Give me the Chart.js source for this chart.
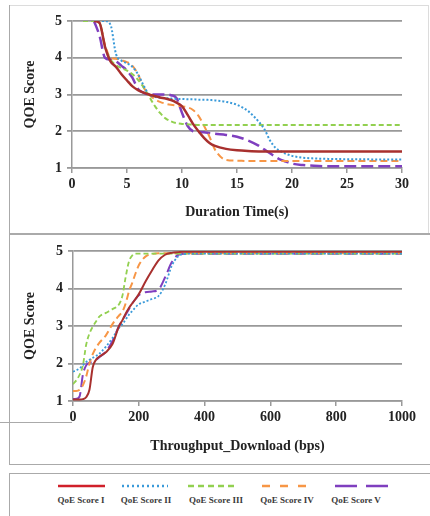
<!DOCTYPE html>
<html>
<head>
<meta charset="utf-8">
<script src="https://cdn.jsdelivr.net/npm/chart.js@4.4.1/dist/chart.umd.min.js"></script>
<style>
  body { margin: 0; background: #fff; width: 430px; height: 516px; overflow: hidden; position: relative; }
  .ln { position: absolute; background: #aaa; }
  .lt { position: absolute; background: #dcdcdc; }
  canvas { position: absolute; }
  .lg { position: absolute; top: 495px; font: bold 9px "Liberation Serif", serif; color: #3a3a3a; white-space: nowrap; transform: translateX(-50%); }
  svg { position: absolute; left: 0; top: 480px; }
</style>
</head>
<body>
<div class="lt" style="left:9px;top:5px;width:419px;height:1px"></div>
<div class="lt" style="left:428px;top:5px;width:1px;height:229px"></div>
<div class="ln" style="left:9px;top:5px;width:1px;height:459px"></div>
<div class="ln" style="left:9px;top:233px;width:421px;height:2px"></div>
<div class="ln" style="left:0;top:422px;width:72px;height:1px"></div>
<div class="ln" style="left:9px;top:464px;width:421px;height:1px"></div>
<div class="ln" style="left:9px;top:473px;width:421px;height:1px"></div>
<div class="ln" style="left:9px;top:473px;width:1px;height:43px"></div>

<canvas id="c1" width="418" height="226" style="left:10px;top:6px"></canvas>
<canvas id="c2" width="418" height="226" style="left:10px;top:236px"></canvas>

<svg width="430" height="12">
  <line x1="58" y1="6" x2="105" y2="6" stroke="#d0202a" stroke-width="2.5"/>
  <line x1="122" y1="6" x2="168" y2="6" stroke="#3a9ad9" stroke-width="2.5" stroke-dasharray="2,3"/>
  <line x1="188" y1="6" x2="238" y2="6" stroke="#92d050" stroke-width="2.5" stroke-dasharray="6,4"/>
  <line x1="262" y1="6" x2="313" y2="6" stroke="#f79646" stroke-width="2.5" stroke-dasharray="8,10"/>
  <line x1="335" y1="6" x2="388" y2="6" stroke="#7f3fbf" stroke-width="2.5" stroke-dasharray="22,9"/>
</svg>
<div class="lg" style="left:81px">QoE Score I</div>
<div class="lg" style="left:146px">QoE Score II</div>
<div class="lg" style="left:216px">QoE Score III</div>
<div class="lg" style="left:287px">QoE Score IV</div>
<div class="lg" style="left:356px">QoE Score V</div>

<script>
// top chart: QoE vs duration time
const timeX = [1, 2, 2.5, 3, 3.5, 4, 4.5, 5, 5.5, 6, 6.5, 7, 7.5, 8, 8.5, 9, 9.5, 10, 10.5, 11, 11.5, 12, 12.5, 13, 14, 15, 16, 17, 17.5, 18, 18.5, 19, 19.5, 20, 21, 22, 23, 25, 30];
const timeQ1 = [null, 5, 4.95, 4.3, 3.9, 3.75, 3.55, 3.38, 3.22, 3.12, 3.05, 3.0, 2.96, 2.92, 2.89, 2.85, 2.78, 2.68, 2.45, 2.2, 2.0, 1.82, 1.68, 1.6, 1.52, 1.48, 1.46, 1.45, 1.45, 1.45, 1.45, 1.45, 1.45, 1.45, 1.45, 1.45, 1.45, 1.45, 1.45];
const timeQ2 = [null, 5, 5, 5, 4.9, 4.1, 3.92, 3.85, 3.75, 3.55, 3.25, 3.0, 2.94, 2.91, 2.9, 2.89, 2.88, 2.88, 2.87, 2.87, 2.86, 2.86, 2.85, 2.84, 2.8, 2.72, 2.55, 2.25, 2.05, 1.75, 1.55, 1.45, 1.38, 1.33, 1.28, 1.26, 1.25, 1.24, 1.23];
const timeQ3 = [5, 5, 4.95, 4.3, 3.95, 3.8, 3.72, 3.65, 3.55, 3.4, 3.2, 2.95, 2.7, 2.5, 2.35, 2.27, 2.22, 2.2, 2.19, 2.18, 2.17, 2.17, 2.17, 2.17, 2.17, 2.17, 2.17, 2.17, 2.17, 2.17, 2.17, 2.17, 2.17, 2.17, 2.17, 2.17, 2.17, 2.17, 2.17];
const timeQ4 = [null, 5, 4.95, 4.35, 4.0, 3.97, 3.93, 3.88, 3.78, 3.55, 3.2, 3.0, 2.88, 2.8, 2.75, 2.72, 2.7, 2.68, 2.65, 2.58, 2.42, 2.15, 1.85, 1.5, 1.22, 1.2, 1.19, 1.19, 1.19, 1.19, 1.19, 1.19, 1.19, 1.19, 1.19, 1.19, 1.19, 1.19, 1.19];
const timeQ5 = [null, 5, 4.6, 4.0, 3.95, 3.9, 3.78, 3.65, 3.45, 3.15, 3.05, 3.0, 3.0, 3.0, 3.0, 2.98, 2.9, 2.5, 2.15, 2.0, 1.98, 1.97, 1.95, 1.93, 1.9, 1.85, 1.75, 1.6, 1.5, 1.4, 1.3, 1.22, 1.17, 1.12, 1.08, 1.06, 1.05, 1.05, 1.05];

// bottom chart: QoE vs download throughput
const thrX = [0, 10, 20, 30, 40, 50, 60, 70, 80, 100, 120, 140, 150, 160, 170, 180, 190, 200, 220, 240, 260, 280, 300, 320, 340, 360, 400, 600, 800, 1000];
const thrQ1 = [1.04, 1.04, 1.04, 1.05, 1.1, 1.3, 1.9, 2.1, 2.18, 2.3, 2.52, 3.0, 3.15, 3.33, 3.48, 3.6, 3.72, 3.85, 4.18, 4.48, 4.75, 4.9, 4.95, 4.97, 4.98, 4.98, 4.98, 4.98, 4.98, 4.98];
const thrQ2 = [1.78, 1.82, 1.87, 1.95, 2.04, 2.1, 2.15, 2.2, 2.26, 2.45, 2.68, 2.95, 3.05, 3.17, 3.3, 3.4, 3.5, 3.58, 3.65, 3.72, 3.8, 4.1, 4.6, 4.86, 4.92, 4.93, 4.93, 4.93, 4.93, 4.93];
const thrQ3 = [1.45, 1.55, 1.7, 1.95, 2.5, 2.8, 2.98, 3.12, 3.25, 3.35, 3.45, 3.58, 3.8, 4.3, 4.72, 4.88, 4.93, 4.93, 4.93, 4.93, 4.93, 4.93, 4.93, 4.93, 4.93, 4.93, 4.93, 4.93, 4.93, 4.93];
const thrQ4 = [1.27, 1.27, 1.3, 1.42, 1.65, 2.0, 2.25, 2.42, 2.55, 2.75, 3.05, 3.28, 3.38, 3.6, 3.92, 4.15, 4.4, 4.62, 4.85, 4.92, 4.94, 4.94, 4.94, 4.94, 4.94, 4.94, 4.94, 4.94, 4.94, 4.94];
const thrQ5 = [1.05, 1.06, 1.12, 1.7, 1.95, 2.02, 2.06, 2.1, 2.17, 2.32, 2.6, 3.0, 3.15, 3.3, 3.45, 3.6, 3.72, 3.82, 3.9, 3.92, 3.97, 4.3, 4.7, 4.9, 4.93, 4.93, 4.93, 4.93, 4.93, 4.93];

const names = ['QoE Score I', 'QoE Score II', 'QoE Score III', 'QoE Score IV', 'QoE Score V'];
const colors = ['#a8302e', '#3a9ad9', '#92d050', '#f79646', '#7f3fbf'];
const dashes = [[], [2, 2], [5, 3], [7, 4], [12, 5]];

function makeSets(xs, series, widths) {
    return series.map(function (ys, i) {
        return {
            label: names[i],
            data: xs.map(function (x, j) { return { x: x, y: ys[j] }; }),
            borderColor: colors[i],
            borderDash: dashes[i],
            borderWidth: widths[i],
            pointRadius: 0,
            fill: false,
            cubicInterpolationMode: 'monotone',
            spanGaps: false
        };
    });
}

const tickFont = { family: 'Liberation Serif', size: 14, weight: 'bold' };
const titleFont = { family: 'Liberation Serif', size: 14, weight: 'bold' };

function makeChart(id, sets, xMax, xStep, xTitle, pad, yW, xH, titleBottom) {
    return new Chart(document.getElementById(id), {
        type: 'line',
        data: { datasets: sets },
        options: {
            responsive: false,
            animation: false,
            layout: { padding: pad },
            plugins: { legend: { display: false }, tooltip: { enabled: false } },
            scales: {
                x: {
                    type: 'linear', min: 0, max: xMax,
                    ticks: { stepSize: xStep, color: '#222', font: tickFont, padding: 3, maxRotation: 0,
                             callback: function (v) { return String(v); } },
                    grid: { drawOnChartArea: false, tickLength: 5, color: '#999', lineWidth: 1.5 },
                    border: { color: '#999', width: 1.5 },
                    title: { display: true, text: xTitle, color: '#222', font: titleFont, padding: { top: 0, bottom: titleBottom } },
                    afterFit: function (s) { s.height = xH; }
                },
                y: {
                    min: 1, max: 5,
                    ticks: { stepSize: 1, color: '#222', font: tickFont, padding: 5 },
                    grid: { tickLength: 5, color: '#999', lineWidth: 1.8 },
                    border: { color: '#999', width: 1.5 },
                    title: { display: true, text: 'QOE Score', color: '#222', font: titleFont, padding: { top: 12, bottom: 0 } },
                    afterFit: function (s) { s.width = yW; }
                }
            }
        }
    });
}

makeChart('c1', makeSets(timeX, [timeQ1, timeQ2, timeQ3, timeQ4, timeQ5], [2.5, 2, 2, 2, 2.5]),
    30, 5, 'Duration Time(s)', { left: 0, right: 26, top: 15, bottom: 0 }, 62, 64, 11.6);
makeChart('c2', makeSets(thrX, [thrQ1, thrQ2, thrQ3, thrQ4, thrQ5], [2, 1.8, 1.8, 2, 2]),
    1000, 200, 'Throughput_Download (bps)', { left: 0, right: 26, top: 15, bottom: 0 }, 63, 61, 7.6);
</script>
</body>
</html>
